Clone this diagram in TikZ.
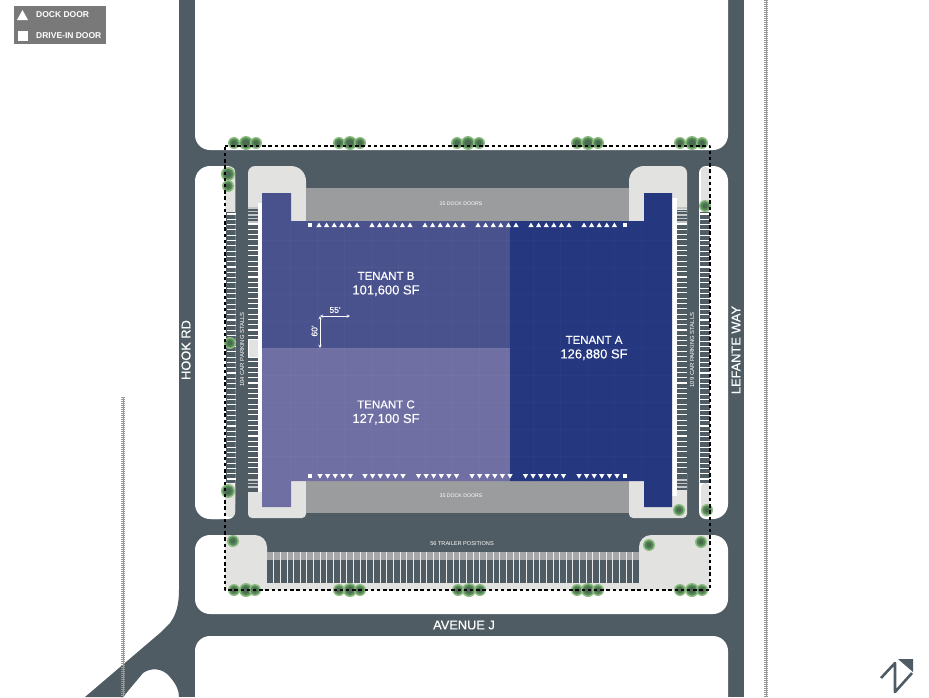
\documentclass[tikz,border=0pt]{standalone}
\usepackage{fontspec}
\setmainfont{Liberation Sans}
\newfontfamily\medfont{Liberation Sans}[FakeBold=0.35]
\definecolor{roadc}{HTML}{505C63}
\definecolor{padc}{HTML}{E2E2E0}
\definecolor{dockc}{HTML}{9B9C9E}
\definecolor{tenA}{HTML}{24377F}
\definecolor{tenB}{HTML}{4A528E}
\definecolor{tenC}{HTML}{6F6FA3}
\definecolor{treeO}{HTML}{8DBB80}
\definecolor{treeM}{HTML}{558A58}
\definecolor{treeI}{HTML}{4A6B50}
\begin{document}
\begin{tikzpicture}[x=1pt,y=-1pt,line join=round,>=stealth,
	stall/.style={white,line width=1.1pt},
	stallend/.style={white!65!roadc,line width=1.1pt},
	rail/.style={gray!80,line width=1pt},
	railtick/.style={gray!80,line width=3.5pt,dash pattern=on 0.7pt off 1.3pt},
	site/.style={black,line width=2.8pt,dash pattern=on 3.4pt off 2.8pt},
	small/.style={white,font=\fontsize{5.2}{6}\selectfont},
	road name/.style={white,font=\medfont\fontsize{12.8}{14}\selectfont},
	tenant/.style={white,align=center,font=\medfont\fontsize{11.5}{14.5}\selectfont},
	legend/.style={white,anchor=west,font=\bfseries\fontsize{8.5}{10}\selectfont}]
	\useasboundingbox (0,0) rectangle (929,697);
	\clip (0,0) rectangle (929,697);
	\fill[white] (0,0) rectangle (929,697);
	% roads
	\fill[roadc] (179,0) rectangle (744,697);
	\fill[roadc] (179,590) .. controls (179,605) and (176,615) .. (170,623) -- (160,633) -- (85,697) -- (123,697) -- (143,673) .. controls (150,668) and (162,667) .. (170,677) .. controls (176,684) and (179,690) .. (179,697) -- cycle;
	% blocks
	\fill[white,rounded corners=15pt] (195,-30) rectangle (728,150);
	\fill[white,rounded corners=15pt] (195,535) rectangle (728,614);
	\fill[white,rounded corners=15pt] (195,636) rectangle (728,730);
	\fill[white,rounded corners=15pt] (195,166) rectangle (235,519);
	\fill[white,rounded corners=7pt] (205,166) rectangle (235,519);
	\fill[white,rounded corners=15pt] (699,166) rectangle (728,519);
	\fill[white,rounded corners=7pt] (699,166) rectangle (719,519);
	% pads
	\fill[padc,rounded corners=4pt] (225,167) rectangle (235,213);
	\fill[padc,rounded corners=4pt] (225,483) rectangle (235,517);
	\fill[padc,rounded corners=4pt] (701,167) rectangle (710,213);
	\fill[padc,rounded corners=4pt] (701,483) rectangle (710,517);
	\fill[roadc] (226,212) rectangle (235,483);
	\fill[roadc] (700,212) rectangle (710,483);
	\fill[padc,rounded corners=7pt] (248,166) rectangle (290,240);
	\fill[padc,rounded corners=15pt] (262,166) rectangle (306,240);
	\fill[padc,rounded corners=7pt] (645,166) rectangle (687,240);
	\fill[padc,rounded corners=15pt] (629,166) rectangle (672,240);
	\fill[padc,rounded corners=4pt] (248,470) rectangle (306,518);
	\fill[padc,rounded corners=4pt] (629,470) rectangle (687,518);
	\fill[roadc] (248,207) rectangle (258,492);
	\fill[roadc] (677,210) rectangle (687,490);
	\fill[white] (258,203) rectangle (262,492);
	\fill[white] (672,198) rectangle (677,496);
	\fill[dockc] (306,188) rectangle (629,221);
	\fill[dockc] (306,481) rectangle (629,513);
	% stalls
	\foreach \y in {214,219.3,...,483} {\draw[stall] (227,\y)--(236,\y); \draw[stall] (700,\y)--(710,\y);}
	\foreach \y in {224,229.3,...,478} {\draw[stall] (248,\y)--(258,\y); \draw[stall] (677,\y)--(687,\y);}
	\foreach \y in {208,211.5,...,222,480,483.5,...,490} {\draw[stallend] (248,\y)--(258,\y); \draw[stallend] (677,\y)--(687,\y);}
	\fill[padc,draw=white,line width=0.5pt] (248,339) rectangle (258,357);
	% trailer court
	\fill[roadc] (250,530) rectangle (655,583);
	\fill[padc] (225,560) rectangle (267,590);
	\fill[padc] (639,560) rectangle (710,590);
	\fill[padc] (225,535) rectangle (245,590);
	\fill[padc] (690,535) rectangle (710,590);
	\fill[padc,rounded corners=12pt] (225,535) rectangle (267,580);
	\fill[padc,rounded corners=12pt] (639,535) rectangle (710,580);
	\fill[padc] (267,583) rectangle (639,590);
	\fill[dockc!90!white] (267,552) rectangle (639,560);
	\fill[roadc] (267,560) rectangle (639,583);
	\foreach \i in {1,...,55} \draw[white!85!gray,line width=0.9pt] (267+\i*6.65,552)--(267+\i*6.65,583);
	% building
	\fill[tenB] (262,348) -- (262,193) -- (291,193) -- (291,221) -- (510,221) -- (510,348) -- cycle;
	\fill[tenC] (262,348) -- (510,348) -- (510,481) -- (291,481) -- (291,507) -- (262,507) -- cycle;
	\fill[tenA] (510,221) -- (644,221) -- (644,193) -- (672,193) -- (672,507) -- (644,507) -- (644,481) -- (510,481) -- cycle;
	\foreach \x in {290,317,...,660} \draw[white,opacity=0.025,line width=0.5pt] (\x,221)--(\x,481);
	\foreach \y in {240,267,...,480} \draw[white,opacity=0.025,line width=0.5pt] (262,\y)--(672,\y);
	% doors
	\foreach \s/\n in {319/5,372/5,425/5,478/5,531/5,584/4} \foreach \k in {0,...,\n}
		\fill[white] (\s+\k*7.6-2.7,227.2) -- (\s+\k*7.6+2.7,227.2) -- (\s+\k*7.6,222.6) -- cycle;
	\foreach \s/\n in {320/4,365/5,418.5/5,472/5,525.5/5,579/5} \foreach \k in {0,...,\n}
		\fill[white] (\s+\k*7.6-2.7,474) -- (\s+\k*7.6+2.7,474) -- (\s+\k*7.6,478.6) -- cycle;
	\foreach \x/\y in {310/225,625/225,310/476,625/476} \fill[white] (\x-2.3,\y-2.3) rectangle (\x+2.3,\y+2.3);
	% trees
	\foreach \x/\y/\r in {234/143/6,246/143/7,256/143/6,339/143/6,350/143/7,360/143/6,457/143/6,468/143/7,479/143/6,577/143/6,588/143/7,598/143/6,680/143/6,692/143/7,702/143/6,
		234/590/6,246/590/7,255/590/6,339/590/6,350/590/7,360/590/6,458/590/6,469/590/7,480/590/6,577/590/6,588/590/7,598/590/6,680/590/6,692/590/7,702/590/6,
		228/174/7,228/186/6,230/343/6,228/491/7,233/541/6,705/206/6,679/510/6,707/510/6,701/542/6,649/545/6}
		{\fill[treeO] (\x,\y) circle (\r); \fill[treeM] (\x,\y) circle (\r-1.4); \fill[treeI] (\x,\y) circle (\r-3.4);}
	% site line
	\draw[site] (225,146) -- (710,146) -- (710,590) -- (225,590) -- cycle;
	% rail lines
	\draw[rail] (766,0) -- (766,697);
	\draw[railtick] (766,0) -- (766,697);
	\draw[rail] (123,397) -- (123,697);
	\draw[railtick] (123,397) -- (123,697);
	% labels
	\node[tenant] (tenantB) at (386,284) {TENANT B\\{\fontsize{13}{14.5}\selectfont 101,600 SF}};
	\node[tenant] (tenantC) at (386,412.5) {TENANT C\\{\fontsize{13}{14.5}\selectfont 127,100 SF}};
	\node[tenant] (tenantA) at (594,348) {TENANT A\\{\fontsize{13}{14.5}\selectfont 126,880 SF}};
	\node[small] (dockN) at (461,204) {35 DOCK DOORS};
	\node[small] (dockS) at (461,496) {35 DOCK DOORS};
	\node[small,font=\fontsize{5.6}{6}\selectfont] (trailers) at (462,544) {56 TRAILER POSITIONS};
	\node[small,rotate=90,font=\fontsize{5.9}{7}\selectfont] (stallsW) at (242,349.5) {104 CAR PARKING STALLS};
	\node[small,rotate=90,font=\fontsize{5.9}{7}\selectfont] (stallsE) at (692,350) {109 CAR PARKING STALLS};
	\node[road name,rotate=90] (hook) at (186,350) {HOOK RD};
	\node[road name,rotate=90] (lefante) at (736,350) {LEFANTE WAY};
	\node[road name] (avenue) at (464,625) {AVENUE J};
	% dimensions
	\coordinate (dimO) at (320,316);
	\coordinate (dimX) at (350,316);
	\coordinate (dimY) at (320,348);
	\draw[white,<->,line width=0.5pt] (dimO) -- (dimX);
	\draw[white,<->,line width=0.5pt] (dimO) -- (dimY);
	\node[white,font=\medfont\fontsize{8.5}{10}\selectfont] (dimW) at (335,310) {55'};
	\node[white,rotate=90,font=\medfont\fontsize{8.5}{10}\selectfont] (dimH) at (314.5,331) {60'};
	% legend
	\fill[gray!95!black] (14,6) rectangle (106,44);
	\fill[white] (17,20) -- (28,20) -- (22.5,10) -- cycle;
	\fill[white] (17.5,30.5) rectangle (27.5,40.5);
	\node[legend,inner sep=0pt] (legDock) at (36,14.5) {DOCK DOOR};
	\node[legend,inner sep=0pt] (legDrive) at (36,35.5) {DRIVE-IN DOOR};
	% north arrow
	\draw[roadc,line width=2.6pt] (881,678) -- (895,663) -- (895,692) -- (912,673);
	\fill[roadc] (898,659) -- (913,659) -- (913,672) -- cycle;
\end{tikzpicture}
\end{document}
